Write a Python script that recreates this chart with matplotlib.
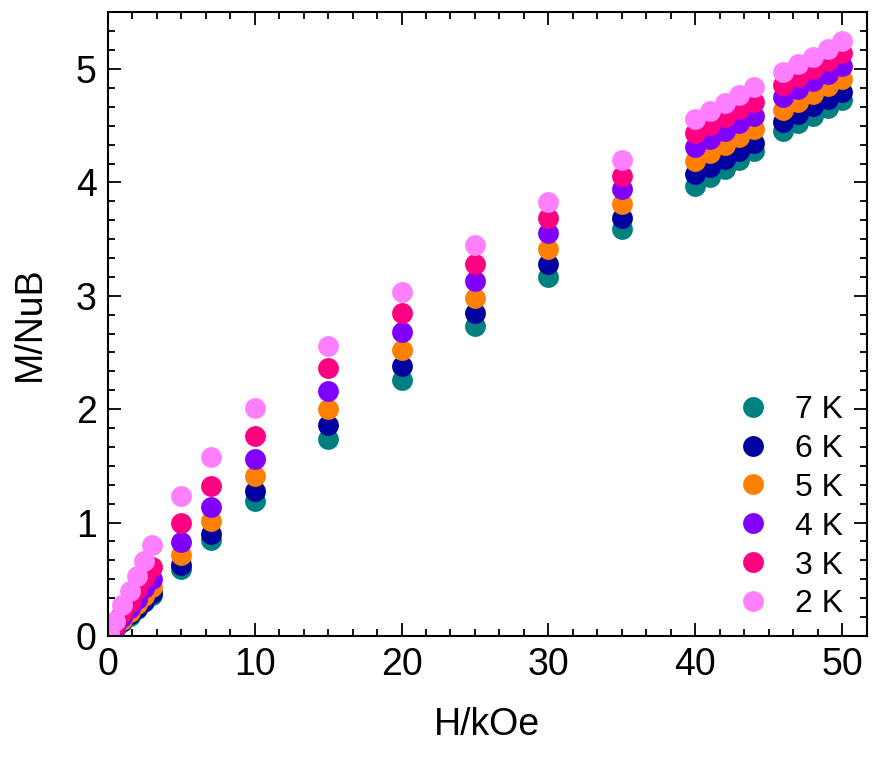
import matplotlib
matplotlib.use("Agg")
import matplotlib.pyplot as plt
from matplotlib.ticker import MultipleLocator

plt.rcParams["font.family"] = ["Liberation Sans", "DejaVu Sans"]

# Field (kOe)
field = [0.1, 0.5, 1, 1.5, 2, 2.5, 3, 5, 7, 10, 15, 20, 25, 30, 35,
         40, 41, 42, 43, 44, 46, 47, 48, 49, 50]

# Magnetization (M/NuB) at each temperature
m_7k = [0.01, 0.06, 0.12, 0.18, 0.24, 0.30, 0.36, 0.59, 0.85, 1.19, 1.74, 2.26, 2.73, 3.17, 3.59,
        3.97, 4.05, 4.12, 4.20, 4.28, 4.45, 4.52, 4.59, 4.66, 4.73]
m_6k = [0.01, 0.06, 0.13, 0.19, 0.25, 0.31, 0.38, 0.63, 0.90, 1.28, 1.86, 2.38, 2.85, 3.28, 3.69,
        4.07, 4.14, 4.21, 4.28, 4.35, 4.53, 4.60, 4.67, 4.74, 4.80]
m_5k = [0.01, 0.07, 0.14, 0.21, 0.28, 0.35, 0.43, 0.71, 1.01, 1.41, 2.00, 2.52, 2.98, 3.41, 3.81,
        4.19, 4.26, 4.33, 4.40, 4.47, 4.64, 4.71, 4.78, 4.85, 4.91]
m_4k = [0.02, 0.08, 0.17, 0.25, 0.33, 0.42, 0.50, 0.83, 1.14, 1.56, 2.16, 2.68, 3.13, 3.55, 3.94,
        4.31, 4.38, 4.45, 4.52, 4.59, 4.75, 4.82, 4.89, 4.96, 5.03]
m_3k = [0.02, 0.10, 0.20, 0.30, 0.41, 0.51, 0.61, 1.00, 1.32, 1.76, 2.36, 2.85, 3.28, 3.69, 4.06,
        4.44, 4.51, 4.58, 4.65, 4.71, 4.86, 4.93, 5.00, 5.07, 5.14]
m_2k = [0.03, 0.13, 0.27, 0.40, 0.53, 0.66, 0.80, 1.23, 1.58, 2.01, 2.56, 3.03, 3.45, 3.83, 4.20,
        4.56, 4.63, 4.70, 4.77, 4.84, 4.97, 5.04, 5.11, 5.18, 5.25]

labels = ["7 K", "6 K", "5 K", "4 K", "3 K", "2 K"]
colors = ["#008080", "#0000A0", "#FF8000", "#8000FF", "#FF0080", "#FF80FF"]


def main():
    fig = plt.figure(figsize=(8.73, 7.61), dpi=100)
    ax = fig.add_axes([0.1234, 0.1643, 0.8694, 0.8195])

    series = [m_7k, m_6k, m_5k, m_4k, m_3k, m_2k]
    for values, label, color in zip(series, labels, colors):
        ax.plot(field, values, "o", color=color, markersize=15,
                markeredgewidth=0, label=label)

    ax.set_xlim(0, 50 + 10 / 6)
    ax.set_ylim(0, 5.5)
    ax.xaxis.set_major_locator(MultipleLocator(10))
    ax.xaxis.set_minor_locator(MultipleLocator(10 / 6))
    ax.yaxis.set_major_locator(MultipleLocator(1))
    ax.yaxis.set_minor_locator(MultipleLocator(1 / 6))

    ax.tick_params(which="both", direction="in", top=True, right=True, width=1.3)
    ax.tick_params(which="major", length=9.5, labelsize=27, pad=8)
    ax.tick_params(which="minor", length=5)
    for spine in ax.spines.values():
        spine.set_linewidth(1.5)

    ax.set_xlabel("H/kOe", fontsize=27, labelpad=17)
    ax.set_ylabel("M/NuB", fontsize=27, labelpad=20)

    ax.legend(loc="lower right", bbox_to_anchor=(1.0, -0.012), frameon=False,
              fontsize=23, handletextpad=0.8, labelspacing=0.28,
              handlelength=1.0, borderaxespad=0.35)

    fig.savefig("out.png", dpi=100)


if __name__ == "__main__":
    main()
